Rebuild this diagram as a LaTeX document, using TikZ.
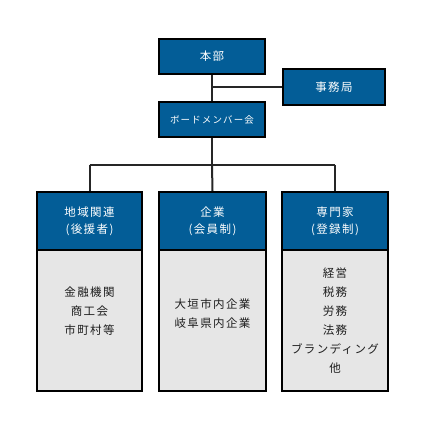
\documentclass[tikz,border=0pt]{standalone}
\usepackage{fontspec}
\setmainfont{Noto Sans CJK JP}[LetterSpace=12]
\definecolor{hdblue}{HTML}{035D97}
\definecolor{bodygray}{HTML}{E6E6E6}
\definecolor{txt}{HTML}{1E1E1E}
\begin{document}
\begin{tikzpicture}[x=1pt,y=-1pt,
  bluebox/.style={draw=black,line width=2pt,fill=hdblue,text=white,inner sep=0pt,
    font=\fontsize{11.5}{17}\selectfont,align=center},
  graybox/.style={draw=black,line width=2pt,fill=bodygray,inner sep=0pt},
  bodytext/.style={text=txt,font=\fontsize{11.5}{19}\selectfont,align=center,inner sep=0pt},
  conn/.style={draw=black!85,line width=2pt}]
\useasboundingbox (0,0) rectangle (427,430);
% top nodes
\node[bluebox,minimum width=106pt,minimum height=35pt] (honbu) at (212,56.5) {本部};
\node[bluebox,minimum width=102pt,minimum height=36pt] (jimu) at (334,87) {事務局};
\node[bluebox,minimum width=106pt,minimum height=35pt,font=\fontsize{9.5}{12}\selectfont] (board) at (212,119.5) {ボードメンバー会};
\coordinate (jn) at (212,87);
\coordinate (bus) at (212,165);
% headers
\node[bluebox,minimum width=105pt,minimum height=58pt] (h1) at (89.5,221) {地域関連\\(後援者)};
\node[bluebox,minimum width=107pt,minimum height=58pt] (h2) at (212.5,221) {企業\\(会員制)};
\node[bluebox,minimum width=106pt,minimum height=58pt] (h3) at (335,221) {専門家\\(登録制)};
% bodies
\node[graybox,minimum width=105pt,minimum height=141pt] (b1) at (89.5,320.5) {};
\node[graybox,minimum width=107pt,minimum height=141pt] (b2) at (212.5,320.5) {};
\node[graybox,minimum width=106pt,minimum height=141pt] (b3) at (335,320.5) {};
\node[bodytext] (t1) at (89.5,311) {金融機関\\商工会\\市町村等};
\node[bodytext] (t2) at (212.5,314) {大垣市内企業\\岐阜県内企業};
\node[bodytext] (t3) at (335,320.5) {経営\\税務\\労務\\法務\\ブランディング\\他};
% connectors
\draw[conn] (honbu.south) -- (board.north);
\draw[conn] (jn) -- (jimu.west);
\draw[conn] (board.south) -- (bus);
\draw[conn] (h1.north |- bus) -- (h3.north |- bus);
\draw[conn] (h1.north |- bus) -- (h1.north);
\draw[conn] (bus) -- (h2.north);
\draw[conn] (h3.north |- bus) -- (h3.north);
\end{tikzpicture}
\end{document}
